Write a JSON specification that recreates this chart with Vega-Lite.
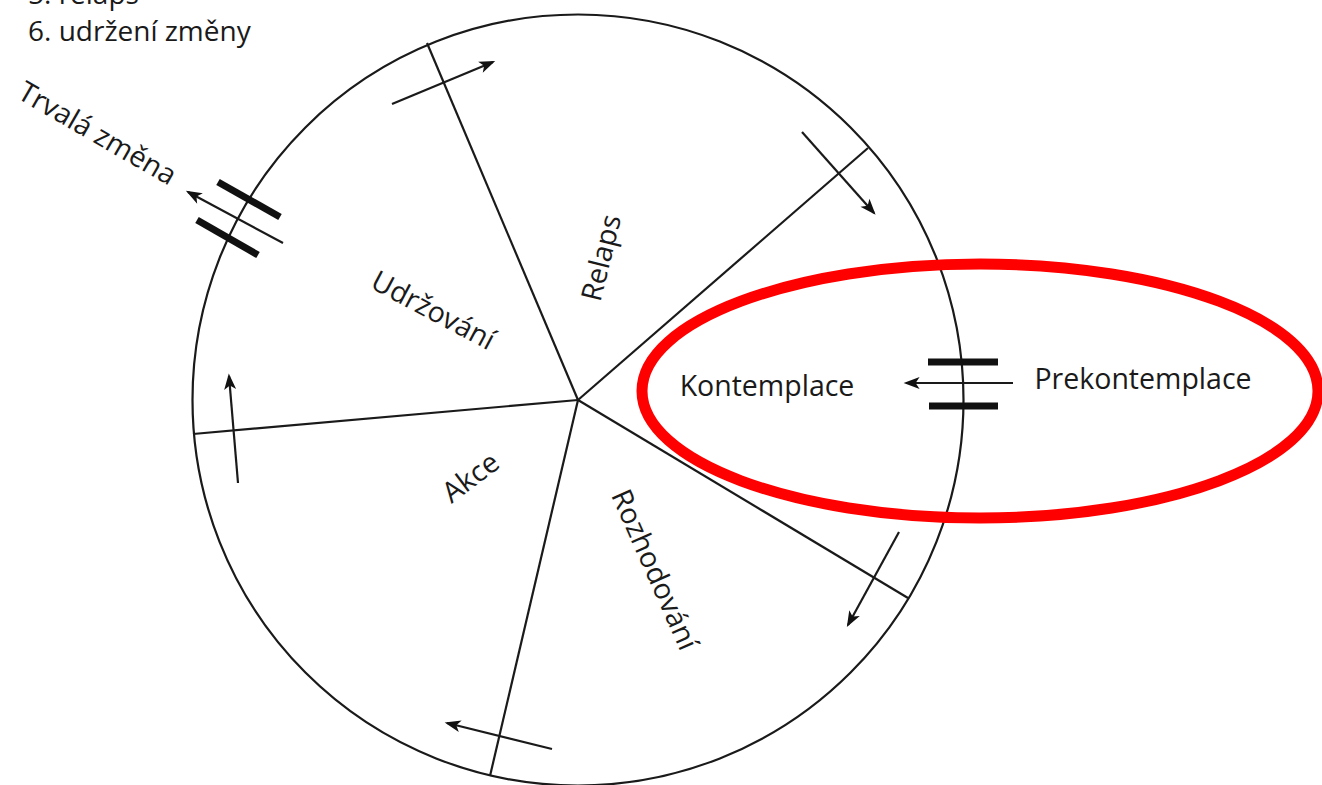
{
  "$schema": "https://vega.github.io/schema/vega-lite/v6.json",
  "width": 1322,
  "height": 785,
  "autosize": "none",
  "padding": 0,
  "background": "white",
  "config": {"view": {"stroke": null}},
  "layer": [
    {
      "data": {"values": [{"cx": 578, "cy": 400}]},
      "mark": {"type": "point", "shape": "circle", "size": 594441, "filled": false, "color": "#1a1a1a", "strokeWidth": 2.2, "opacity": 1, "clip": true},
      "encoding": {
        "x": {"field": "cx", "type": "quantitative", "scale": {"domain": [0, 1322], "nice": false, "zero": false}, "axis": null},
        "y": {"field": "cy", "type": "quantitative", "scale": {"domain": [0, 785], "nice": false, "zero": false, "reverse": true}, "axis": null}
      }
    },
    {
      "data": {"values": [
        {"x": 578, "y": 400, "x2": 427, "y2": 43},
        {"x": 578, "y": 400, "x2": 868, "y2": 148},
        {"x": 578, "y": 400, "x2": 908, "y2": 598},
        {"x": 578, "y": 400, "x2": 490, "y2": 776},
        {"x": 578, "y": 400, "x2": 193, "y2": 434}
      ]},
      "mark": {"type": "rule", "color": "#1a1a1a", "strokeWidth": 2.2, "clip": true},
      "encoding": {
        "x": {"field": "x", "type": "quantitative", "axis": null},
        "y": {"field": "y", "type": "quantitative", "axis": null},
        "x2": {"field": "x2"},
        "y2": {"field": "y2"}
      }
    },
    {
      "data": {"values": [
        {"x": 392, "y": 104, "x2": 493, "y2": 62, "rot": -22.6},
        {"x": 802, "y": 132, "x2": 874, "y2": 213, "rot": 48.4},
        {"x": 1013, "y": 383, "x2": 906, "y2": 383, "rot": 180},
        {"x": 899, "y": 532, "x2": 848, "y2": 625, "rot": 118.7},
        {"x": 552, "y": 749, "x2": 447, "y2": 723, "rot": 193.9},
        {"x": 238, "y": 483, "x2": 229, "y2": 376, "rot": 265.2},
        {"x": 283, "y": 243, "x2": 188, "y2": 192, "rot": 208.2}
      ]},
      "layer": [
        {
          "mark": {"type": "rule", "color": "#1a1a1a", "strokeWidth": 2.2, "clip": true},
          "encoding": {
            "x": {"field": "x", "type": "quantitative", "axis": null},
            "y": {"field": "y", "type": "quantitative", "axis": null},
            "x2": {"field": "x2"},
            "y2": {"field": "y2"}
          }
        },
        {
          "mark": {"type": "point", "shape": "M0.3,0L-1.7,-0.75L-1.2,0L-1.7,0.75Z", "size": 256, "filled": true, "color": "#111", "opacity": 1, "strokeWidth": 0, "clip": true},
          "encoding": {
            "x": {"field": "x2", "type": "quantitative", "axis": null},
            "y": {"field": "y2", "type": "quantitative", "axis": null},
            "angle": {"field": "rot", "type": "quantitative", "scale": null}
          }
        }
      ]
    },
    {
      "data": {"values": [
        {"x": 218, "y": 182, "x2": 280, "y2": 217},
        {"x": 197, "y": 220, "x2": 258, "y2": 255},
        {"x": 928, "y": 362, "x2": 998, "y2": 362},
        {"x": 929, "y": 406, "x2": 998, "y2": 406}
      ]},
      "mark": {"type": "rule", "color": "#111", "strokeWidth": 7, "strokeCap": "butt", "clip": true},
      "encoding": {
        "x": {"field": "x", "type": "quantitative", "axis": null},
        "y": {"field": "y", "type": "quantitative", "axis": null},
        "x2": {"field": "x2"},
        "y2": {"field": "y2"}
      }
    },
    {
      "data": {"values": [
        {"label": "Relaps", "x": 602, "y": 258, "rot": -76},
        {"label": "Udržování", "x": 433, "y": 311, "rot": 28},
        {"label": "Akce", "x": 471, "y": 478, "rot": -37},
        {"label": "Rozhodování", "x": 654, "y": 570, "rot": 66},
        {"label": "Trvalá změna", "x": 97, "y": 134, "rot": 30},
        {"label": "Kontemplace", "x": 767, "y": 387, "rot": 0},
        {"label": "Prekontemplace", "x": 1143, "y": 380, "rot": 0}
      ]},
      "mark": {"type": "text", "font": "Open Sans", "fontSize": 28.5, "color": "#1a1a1a", "align": "center", "baseline": "middle", "clip": true},
      "encoding": {
        "x": {"field": "x", "type": "quantitative", "axis": null},
        "y": {"field": "y", "type": "quantitative", "axis": null},
        "text": {"field": "label"},
        "angle": {"field": "rot", "type": "quantitative", "scale": null}
      }
    },
    {
      "data": {"values": [
        {"label": "5. relaps", "x": 28, "y": 4},
        {"label": "6. udržení změny", "x": 28, "y": 41}
      ]},
      "mark": {"type": "text", "font": "Open Sans", "fontSize": 28, "color": "#1a1a1a", "align": "left", "baseline": "alphabetic", "clip": true},
      "encoding": {
        "x": {"field": "x", "type": "quantitative", "axis": null},
        "y": {"field": "y", "type": "quantitative", "axis": null},
        "text": {"field": "label"}
      }
    },
    {
      "data": {"values": [{"cx": 980, "cy": 391}]},
      "mark": {"type": "point", "shape": "M-1,0A1,0.3757,0,1,1,1,0A1,0.3757,0,1,1,-1,0Z", "size": 456976, "filled": false, "color": "#ff0000", "strokeWidth": 11, "opacity": 1, "clip": true},
      "encoding": {
        "x": {"field": "cx", "type": "quantitative", "axis": null},
        "y": {"field": "cy", "type": "quantitative", "axis": null}
      }
    }
  ]
}
